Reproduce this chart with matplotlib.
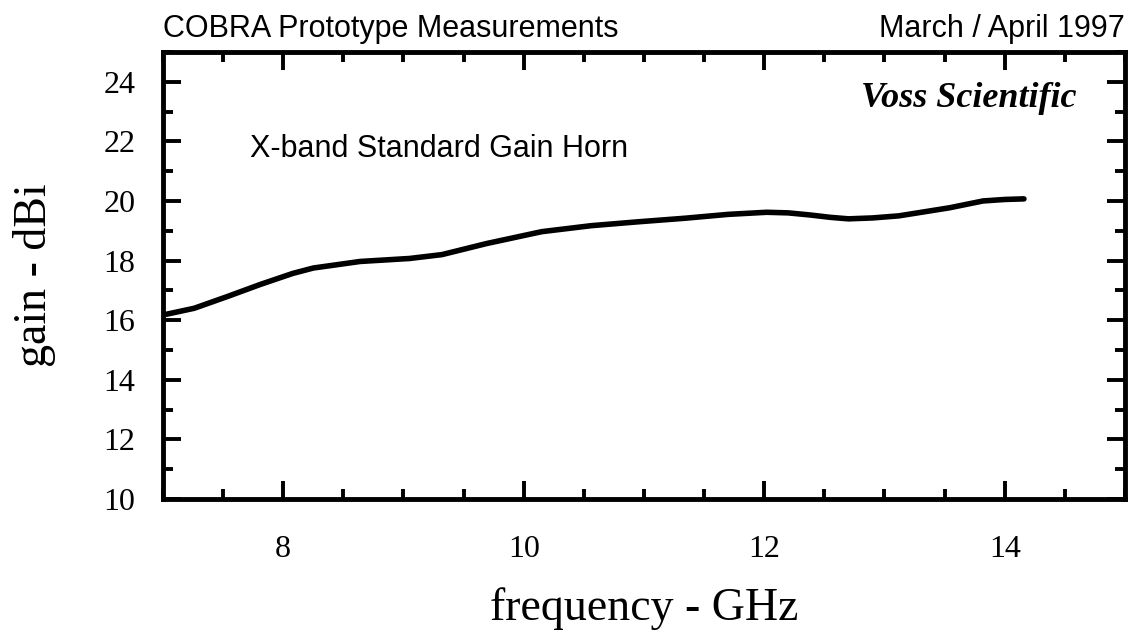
import matplotlib
matplotlib.use('Agg')
import matplotlib.pyplot as plt
from matplotlib.ticker import MultipleLocator

# values
freq = [7.03, 7.26, 7.54, 7.81, 8.08, 8.25, 8.64, 9.05, 9.32, 9.69, 10.15,
        10.56, 10.95, 11.34, 11.70, 12.02, 12.20, 12.38, 12.55, 12.70, 12.90,
        13.12, 13.54, 13.82, 14.00, 14.16]
gain = [16.20, 16.40, 16.80, 17.20, 17.57, 17.75, 17.97, 18.07, 18.20, 18.57, 18.97,
        19.17, 19.30, 19.42, 19.55, 19.62, 19.60, 19.53, 19.45, 19.40, 19.43,
        19.50, 19.77, 20.00, 20.05, 20.07]

x_ticks = [8, 10, 12, 14]
y_ticks = [10, 12, 14, 16, 18, 20, 22, 24]

serif = 'Liberation Serif'
sans = 'Liberation Sans'

fig = plt.figure(figsize=(11.28, 6.41), dpi=100)
ax = fig.add_axes([0.1445, 0.2215, 0.8528, 0.6975])

ax.plot(freq, gain, color='black', lw=4, solid_capstyle='round', solid_joinstyle='round')

ax.set_xlim(7, 15)
ax.set_ylim(10, 25)
ax.set_xticks(x_ticks)
ax.set_yticks(y_ticks)
ax.xaxis.set_minor_locator(MultipleLocator(0.5))
ax.yaxis.set_minor_locator(MultipleLocator(1))
ax.tick_params(which='both', direction='in', top=True, right=True, width=2.8, color='black')
ax.tick_params(which='major', length=13)
ax.tick_params(which='minor', length=7)
ax.tick_params(axis='x', which='major', pad=26)
ax.tick_params(axis='y', which='major', pad=20)
for lab in ax.get_xticklabels() + ax.get_yticklabels():
    lab.set_fontfamily(serif)
    lab.set_fontsize(23)
for sp in ax.spines.values():
    sp.set_linewidth(3.5)

ax.set_xlabel('frequency - GHz', family=serif, fontsize=33, va='baseline')
ax.xaxis.set_label_coords(0.5, -0.2707)
ax.set_ylabel('gain - dBi', family=serif, fontsize=33)
ax.yaxis.set_label_coords(-0.111, 0.5)

fig.text(0.1445, 1 - 37 / 641, 'COBRA Prototype Measurements', family=sans,
         fontsize=22, ha='left', va='baseline')
fig.text(0.997, 1 - 37 / 641, 'March / April 1997', family=sans,
         fontsize=22, ha='right', va='baseline')

ax.text(7.72, 21.48, 'X-band Standard Gain Horn', family=sans, fontsize=22,
        ha='left', va='baseline')
ax.text(14.60, 23.15, 'Voss Scientific', family=serif, fontsize=26,
        style='italic', weight='bold', ha='right', va='baseline')

fig.savefig('out.png', dpi=100)
